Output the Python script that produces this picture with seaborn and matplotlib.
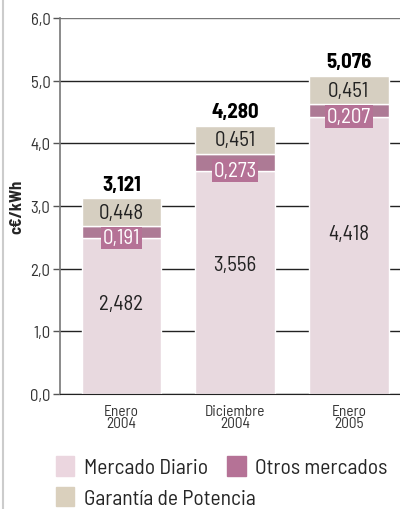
import matplotlib
matplotlib.use("Agg")
import matplotlib.pyplot as plt
import seaborn as sns
import pandas as pd
import numpy as np
from matplotlib.lines import Line2D
from matplotlib.patches import Patch

periods = ['Enero\n2004', 'Diciembre\n2004', 'Enero\n2005']
mercado_diario = [2.482, 3.556, 4.418]
otros_mercados = [0.191, 0.273, 0.207]
garantia = [0.448, 0.451, 0.451]
totals = [3.121, 4.280, 5.076]

c_diario = '#ebd6df'
c_otros = '#b57296'
c_garantia = '#dad0bd'

sns.set_style('white')
plt.rcParams['font.family'] = ['Barlow Semi Condensed', 'DejaVu Sans']

def fmt(v):
    return f'{v:.3f}'.replace('.', ',')

df = pd.DataFrame({'period': periods, 'diario': mercado_diario,
                   'otros': otros_mercados, 'garantia': garantia})
df['base2'] = df['diario'] + df['otros']

fig = plt.figure(figsize=(4, 5.1), dpi=100)
ax = fig.add_axes([0.15, 0.2255, 0.85, 0.7373])

for y in range(0, 6):
    ax.axhline(y, color='#222222', lw=1.0, zorder=0)
ax.axhline(6, color='#777777', lw=1.0, zorder=0)

w = 0.7
sns.barplot(data=df, x='period', y='diario', color=c_diario, width=w, ax=ax, zorder=2)
sns.barplot(data=df, x='period', y='otros', bottom=df['diario'], color=c_otros, width=w, ax=ax, zorder=2)
sns.barplot(data=df, x='period', y='garantia', bottom=df['base2'], color=c_garantia, width=w, ax=ax, zorder=2)

for i in range(len(periods)):
    d, o, g, t = mercado_diario[i], otros_mercados[i], garantia[i], totals[i]
    ax.text(i, d * 0.58, fmt(d), ha='center', va='center', fontsize=15, color='#222222', zorder=5)
    ax.text(i, d + 0.01, fmt(o), ha='center', va='center', fontsize=15, color='white', zorder=5,
            bbox=dict(boxstyle='square,pad=0.08', fc=c_otros, ec='none'))
    ax.text(i, d + o + g / 2, fmt(g), ha='center', va='center', fontsize=15, color='#222222', zorder=5)
    ax.text(i, t + 0.07, fmt(t), ha='center', va='bottom', fontsize=15, fontweight='bold', color='black', zorder=5)

ax.set_ylim(0, 6)
ax.set_xlim(-0.54, 2.45)
ax.set_yticks(np.arange(0, 7, 1))
ax.set_yticklabels([f'{v:.1f}'.replace('.', ',') for v in range(0, 7)], fontsize=12, color='#333333')
ax.set_xticks(range(3))
ax.set_xticklabels(periods, fontsize=11, color='#333333', linespacing=0.85)
ax.tick_params(axis='y', length=5, width=1, color='#555555', pad=2, left=True)
ax.tick_params(axis='x', length=0, pad=7)
ax.set_xlabel('')
ax.set_ylabel('c€/kWh', fontsize=12, fontweight='bold')
ax.yaxis.set_label_coords(-0.105, 0.5)

for s in ['top', 'right']:
    ax.spines[s].set_visible(False)
ax.spines['left'].set_color('#777777')
ax.spines['left'].set_linewidth(1.2)
ax.spines['bottom'].set_color('#222222')

row1 = [Patch(color=c_diario, label='Mercado Diario'),
        Patch(color=c_otros, label='Otros mercados')]
row2 = [Patch(color=c_garantia, label='Garantía de Potencia')]
leg_kw = dict(frameon=False, fontsize=15.5, handlelength=0.85, handleheight=1.0,
              handletextpad=0.45, borderaxespad=0, borderpad=0)
fig.legend(handles=row1, loc='upper left', bbox_to_anchor=(0.14, 0.103), ncol=2,
           columnspacing=0.9, **leg_kw)
fig.legend(handles=row2, loc='upper left', bbox_to_anchor=(0.14, 0.043), **leg_kw)

fig.add_artist(Line2D([0.008, 0.008], [0, 1], color='#cccccc', lw=1.5))

fig.savefig('out.png', dpi=100)
